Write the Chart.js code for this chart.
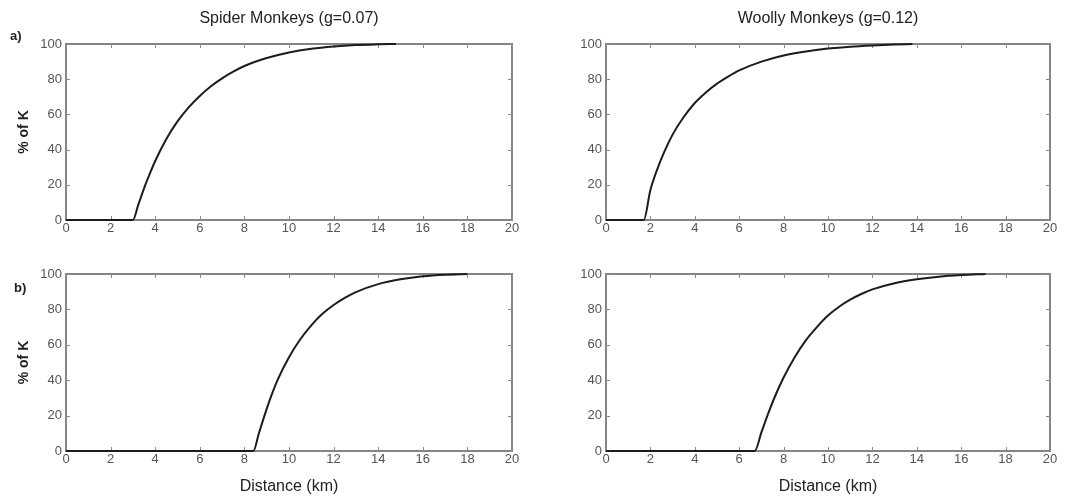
<!DOCTYPE html>
<html><head><meta charset="utf-8">
<script src="https://cdn.jsdelivr.net/npm/chart.js@4.4.0/dist/chart.umd.min.js"></script>
<style>
html,body{margin:0;padding:0;background:#fff;}
body{width:1078px;height:500px;position:relative;overflow:hidden;font-family:"Liberation Sans",Arial,sans-serif;}
.box{position:absolute;}
.panel{position:absolute;font-weight:bold;font-size:13px;color:#222;line-height:1;}
</style></head><body>
<div class="box" style="left:0;top:0;width:530px;height:245px"><canvas id="c1" width="530" height="245"></canvas></div>
<div class="box" style="left:539px;top:0;width:539px;height:245px"><canvas id="c2" width="539" height="245"></canvas></div>
<div class="box" style="left:0;top:245px;width:530px;height:255px"><canvas id="c3" width="530" height="255"></canvas></div>
<div class="box" style="left:539px;top:245px;width:539px;height:255px"><canvas id="c4" width="539" height="255"></canvas></div>
<div class="panel" style="left:10px;top:29px">a)</div>
<div class="panel" style="left:14px;top:281px">b)</div>
<script>
// ---- data ----
const xTickVals = [0, 2, 4, 6, 8, 10, 12, 14, 16, 18, 20];
const yTickVals = [0, 20, 40, 60, 80, 100];

const spiderA_km  = [0, 3.0, 3.25, 3.5, 3.75, 4.0, 4.5, 5.0, 5.5, 6.0, 6.5, 7.0, 7.5, 8.0, 9.0, 10, 11, 12, 13, 14, 14.8];
const spiderA_pct = [0, 0, 9, 18, 26, 33.5, 46, 56, 64, 70.5, 76, 80.5, 84.3, 87.5, 92, 95.2, 97.3, 98.6, 99.4, 99.8, 100];

const woollyA_km  = [0, 1.7, 2.0, 2.3, 2.6, 3.0, 3.5, 4.0, 4.5, 5.0, 5.5, 6.0, 7.0, 8.0, 9.0, 10, 11, 12, 13, 13.8];
const woollyA_pct = [0, 0, 17, 28.5, 38, 48.5, 58.5, 66.5, 72.5, 77.5, 81.5, 85, 90, 93.5, 95.8, 97.4, 98.5, 99.2, 99.7, 100];

const spiderB_km  = [0, 8.4, 8.65, 8.9, 9.2, 9.5, 10, 10.5, 11, 11.5, 12, 12.5, 13, 14, 15, 16, 17, 18];
const spiderB_pct = [0, 0, 10, 20, 31, 40.5, 53, 63, 71, 77.5, 82.5, 86.5, 89.8, 94.3, 97, 98.7, 99.6, 100];

const woollyB_km  = [0, 6.7, 7.0, 7.3, 7.6, 8.0, 8.5, 9.0, 9.5, 10, 10.5, 11, 11.5, 12, 13, 14, 15, 16, 17.1];
const woollyB_pct = [0, 0, 10.5, 21, 30.5, 41.5, 53, 62.5, 70, 76.5, 81.5, 85.5, 88.7, 91.3, 94.8, 97, 98.5, 99.4, 100];

const titleSpider = 'Spider Monkeys (g=0.07)';
const titleWoolly = 'Woolly Monkeys (g=0.12)';
const xLabel = 'Distance (km)';
const yLabel = '% of K';

// ---- rendering ----
const FONT = '"Liberation Sans", Arial, sans-serif';

const boxTicks = {
  id: 'boxTicks',
  beforeDatasetsDraw(chart) {
    const {ctx, chartArea: a, scales: {x, y}} = chart;
    ctx.save();
    ctx.strokeStyle = '#858585';
    ctx.lineWidth = 2;
    ctx.strokeRect(a.left, a.top, a.right - a.left, a.bottom - a.top);
    ctx.lineWidth = 1;
    ctx.strokeStyle = '#8a8a8a';
    ctx.beginPath();
    x.ticks.forEach(t => {
      const px = Math.round(x.getPixelForValue(t.value)) + 0.5;
      ctx.moveTo(px, a.bottom); ctx.lineTo(px, a.bottom - 4);
      ctx.moveTo(px, a.top); ctx.lineTo(px, a.top + 4);
    });
    y.ticks.forEach(t => {
      const py = Math.round(y.getPixelForValue(t.value)) + 0.5;
      ctx.moveTo(a.left, py); ctx.lineTo(a.left + 4, py);
      ctx.moveTo(a.right, py); ctx.lineTo(a.right - 4, py);
    });
    ctx.stroke();
    ctx.restore();
  }
};

function makeChart(id, km, pct, o) {
  return new Chart(document.getElementById(id), {
    type: 'line',
    data: {
      datasets: [{
        data: km.map((v, i) => ({x: v, y: pct[i]})),
        borderColor: '#1c1c1c',
        borderWidth: 2,
        pointRadius: 0,
        cubicInterpolationMode: 'monotone',
        clip: false
      }]
    },
    options: {
      responsive: false,
      animation: false,
      events: [],
      layout: {padding: {top: o.padTop, right: o.padRight, left: 0, bottom: 0}},
      plugins: {
        legend: {display: false},
        tooltip: {enabled: false},
        title: {
          display: !!o.title, text: o.title || '', fullSize: false, color: '#222',
          font: {family: FONT, size: 16, weight: 'normal'},
          padding: {top: 9.4, bottom: 15.4}
        }
      },
      scales: {
        x: {
          type: 'linear', min: 0, max: 20,
          afterBuildTicks: s => { s.ticks = xTickVals.map(v => ({value: v})); },
          grid: {display: false, drawTicks: false, tickLength: 0},
          border: {display: false},
          ticks: {padding: 1, color: '#555', font: {family: FONT, size: 13}, maxRotation: 0, autoSkip: false},
          title: {display: !!o.xTitle, text: o.xTitle || '', color: '#222',
                  font: {family: FONT, size: 16}, padding: {top: 0, bottom: 3.4}},
          afterFit: s => { s.height = o.xH; }
        },
        y: {
          type: 'linear', min: 0, max: 100,
          afterBuildTicks: s => { s.ticks = yTickVals.map(v => ({value: v})); },
          grid: {display: false, drawTicks: false, tickLength: 0},
          border: {display: false},
          ticks: {padding: 4, color: '#555', font: {family: FONT, size: 13}, autoSkip: false},
          title: {display: !!o.yTitle, text: o.yTitle || '', color: '#222',
                  font: {family: FONT, size: 14, weight: 'bold'}, padding: {top: 16, bottom: 0}},
          afterFit: s => { s.width = o.yW; }
        }
      }
    },
    plugins: [boxTicks]
  });
}

makeChart('c1', spiderA_km, spiderA_pct, {title: titleSpider, yTitle: yLabel, padTop: 0, padRight: 18, xH: 25, yW: 66});
makeChart('c2', woollyA_km, woollyA_pct, {title: titleWoolly, padTop: 0, padRight: 28, xH: 25, yW: 67});
makeChart('c3', spiderB_km, spiderB_pct, {xTitle: xLabel, yTitle: yLabel, padTop: 29, padRight: 18, xH: 49, yW: 66});
makeChart('c4', woollyB_km, woollyB_pct, {xTitle: xLabel, padTop: 29, padRight: 28, xH: 49, yW: 67});
</script>
</body></html>
